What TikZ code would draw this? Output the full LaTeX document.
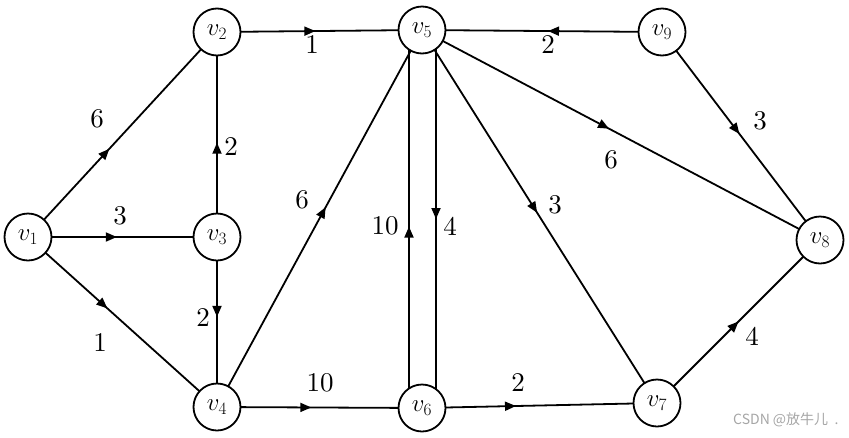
\documentclass[tikz,border=0pt]{standalone}
\usepackage{fontspec}
\newfontfamily\cjk{Noto Sans CJK SC}
\newfontfamily\labfont{lmroman10-regular.otf}
\usetikzlibrary{arrows.meta,decorations.markings}
\tikzset{
  vert/.style={circle,draw,line width=1.8pt,minimum size=47pt,inner sep=0pt,fill=white,font=\fontsize{27}{32}\selectfont},
  edge/.style={line width=1.8pt},
  arr/.style={edge,postaction={decorate},decoration={markings,mark=at position #1 with {\arrow{Triangle[length=11pt,width=9pt]}}}},
  lab/.style={font=\labfont\fontsize{27}{32}\selectfont,inner sep=0pt}
}
\begin{document}
\begin{tikzpicture}[x=1pt,y=-1pt]
\useasboundingbox (0,0) rectangle (849,437);
\coordinate (c1) at (28,237);
\coordinate (c2) at (217,32);
\coordinate (c3) at (217,237);
\coordinate (c4) at (217,407);
\coordinate (c5) at (422,30);
\coordinate (c6) at (422,408);
\coordinate (c7) at (657,403);
\coordinate (c8) at (820,240);
\coordinate (c9) at (662,32);
\coordinate (c5a) at (409,30);
\coordinate (c6a) at (409,408);
\coordinate (c5b) at (436,30);
\coordinate (c6b) at (436,408);

\draw[arr=0.43] (c1) -- (c2);
\draw[arr=0.47] (c1) -- (c3);
\draw[arr=0.42] (c1) -- (c4);
\draw[arr=0.46] (c3) -- (c2);
\draw[arr=0.47] (c3) -- (c4);
\draw[arr=0.48] (c2) -- (c5);
\draw[arr=0.53] (c4) -- (c5);
\draw[arr=0.46] (c4) -- (c6);
\draw[arr=0.48] (c6a) -- (c5a);
\draw[arr=0.50] (c5b) -- (c6b);
\draw[arr=0.475] (c9) -- (c5);
\draw[arr=0.47] (c5) -- (c8);
\draw[arr=0.49] (c5) -- (c7);
\draw[arr=0.40] (c6) -- (c7);
\draw[arr=0.49] (c9) -- (c8);
\draw[arr=0.50] (c7) -- (c8);

\node[vert] (v1) at (c1) {$v_1$};
\node[vert] (v2) at (c2) {$v_2$};
\node[vert] (v3) at (c3) {$v_3$};
\node[vert] (v4) at (c4) {$v_4$};
\node[vert] (v5) at (c5) {$v_5$};
\node[vert] (v6) at (c6) {$v_6$};
\node[vert] (v7) at (c7) {$v_7$};
\node[vert] (v8) at (c8) {$v_8$};
\node[vert] (v9) at (c9) {$v_9$};

\node[lab] (l12) at (97,119) {6};
\node[lab] (l13) at (120,216) {3};
\node[lab] (l14) at (100,343) {1};
\node[lab] (l32) at (231,147) {2};
\node[lab] (l34) at (203,318) {2};
\node[lab] (l25) at (312,45) {1};
\node[lab] (l45) at (302,200) {6};
\node[lab] (l46) at (320,383) {10};
\node[lab] (l65) at (385,226) {10};
\node[lab] (l56) at (450,226) {4};
\node[lab] (l95) at (548,45) {2};
\node[lab] (l58) at (611,160) {6};
\node[lab] (l57) at (555,205) {3};
\node[lab] (l67) at (518,383) {2};
\node[lab] (l98) at (760,121) {3};
\node[lab] (l78) at (752,336) {4};

\node[anchor=west,inner sep=0pt,text=gray!70,font=\fontsize{14}{16}\selectfont] (wm) at (733,420) {\cjk CSDN @放牛儿\ \ .};
\end{tikzpicture}
\end{document}
